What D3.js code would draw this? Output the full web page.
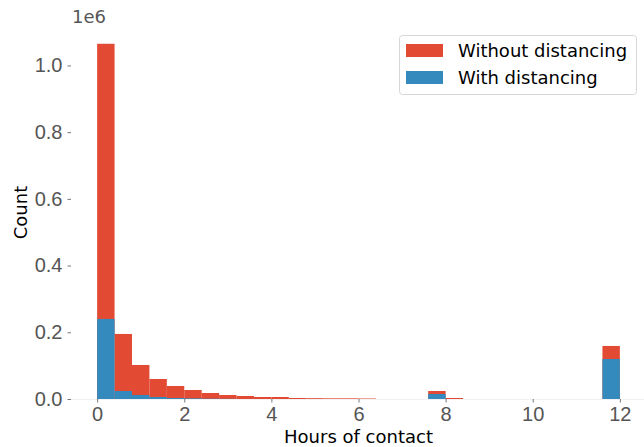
<!DOCTYPE html>
<html lang="en">
<head>
<meta charset="utf-8">
<title>Hours of contact</title>
<script src="https://cdn.jsdelivr.net/npm/d3@7"></script>
<style>
  body { margin: 0; background: #fff; }
  svg { display: block; font-family: "DejaVu Sans", sans-serif; }
</style>
</head>
<body>
<svg width="644" height="447"></svg>
<script>
// histogram bins: 30 bins of 0.4 hours from 0 to 12
var binEdges = d3.range(0, 30).map(i => +(i * 0.4).toFixed(1));
var binWidth = 0.4;
var seriesNames = ['Without distancing', 'With distancing'];
var withoutDist = [1065000, 195000, 102000, 60000, 39000, 27000, 18000, 12000, 9000, 6000,
                   6000, 3000, 2500, 2000, 2000, 1500, 0, 0, 0, 24000,
                   3000, 0, 0, 0, 0, 0, 0, 0, 0, 159000];
var withDist = [240000, 24000, 12000, 6000, 3000, 2000, 1000, 500, 0, 0,
                0, 0, 0, 0, 0, 0, 0, 0, 0, 15000,
                0, 0, 0, 0, 0, 0, 0, 0, 0, 120000];
var xTicks = [0, 2, 4, 6, 8, 10, 12];
var yTicks = [0, 0.2e6, 0.4e6, 0.6e6, 0.8e6, 1.0e6];
var colors = ['#E24A33', '#348ABD'];

var svg = d3.select('svg');
var plotL = 71, plotR = 646, plotT = 26, plotB = 399;

var x = d3.scaleLinear().domain([-0.6, 12.6]).range([plotL, plotR]);
var y = d3.scaleLinear().domain([0, 1065000 * 1.05]).range([plotB, plotT]);

// faint bottom edge
svg.append('line')
  .attr('x1', plotL).attr('x2', 644)
  .attr('y1', plotB + 0.5).attr('y2', plotB + 0.5)
  .style('stroke', '#f2f2f2');

[withoutDist, withDist].forEach(function(vals, s) {
  svg.append('g').selectAll('rect')
    .data(vals)
    .enter()
    .append('rect')
    .attr('x', (d, i) => x(binEdges[i]))
    .attr('width', (d, i) => x(binEdges[i] + binWidth) - x(binEdges[i]))
    .attr('y', d => y(d))
    .attr('height', d => y(0) - y(d))
    .style('fill', colors[s]);
});

// x axis
var xAxis = d3.axisBottom(x).tickValues(xTicks).tickSize(3.5).tickPadding(4).tickFormat(d3.format('d'));
var gx = svg.append('g').attr('transform', 'translate(0,' + plotB + ')').call(xAxis);
gx.select('.domain').remove();
gx.selectAll('line').style('stroke', '#555').style('stroke-width', 0.8);
gx.selectAll('text').style('fill', '#555').style('font-size', '20px');

// y axis
var yAxis = d3.axisLeft(y).tickValues(yTicks).tickSize(3.5).tickPadding(5).tickFormat(d => (d / 1e6).toFixed(1));
var gy = svg.append('g').attr('transform', 'translate(' + plotL + ',0)').call(yAxis);
gy.select('.domain').remove();
gy.selectAll('line').style('stroke', '#555').style('stroke-width', 0.8);
gy.selectAll('text').style('fill', '#555').style('font-size', '20px');

svg.append('text').attr('x', 72).attr('y', 23)
  .style('font-size', '18px').style('fill', '#555').text('1e6');

svg.append('text').attr('x', (plotL + plotR) / 2).attr('y', 443)
  .attr('text-anchor', 'middle').style('font-size', '18px').style('fill', '#000')
  .text('Hours of contact');

svg.append('text').attr('transform', 'translate(27,' + ((plotT + plotB) / 2) + ') rotate(-90)')
  .attr('text-anchor', 'middle').style('font-size', '18px').style('fill', '#000')
  .text('Count');

// legend
var lg = svg.append('g');
lg.append('rect').attr('x', 399.5).attr('y', 35.5).attr('width', 237).attr('height', 59)
  .attr('rx', 3).style('fill', '#fff').style('fill-opacity', 0.8)
  .style('stroke', '#d6d6d6').style('stroke-width', 1);
seriesNames.forEach(function(name, i) {
  lg.append('rect').attr('x', 406).attr('y', 44 + i * 27).attr('width', 37).attr('height', 13)
    .style('fill', colors[i]);
  lg.append('text').attr('x', 458).attr('y', 57 + i * 27)
    .style('font-size', '18px').style('fill', '#000').text(name);
});
</script>
</body>
</html>
